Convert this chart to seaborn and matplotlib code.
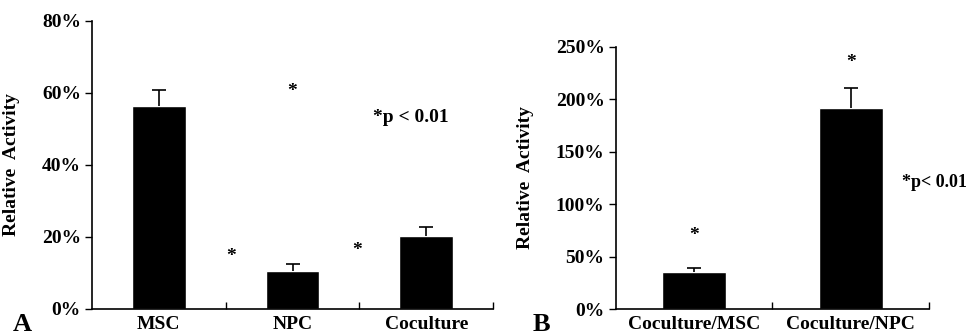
import numpy as np
import pandas as pd
import matplotlib
matplotlib.use("Agg")
import matplotlib.pyplot as plt
import seaborn as sns

# Panel A data
a_groups = ["MSC", "NPC", "Coculture"]
a_values = [56.2, 10.6, 20.3]
a_errors = [4.7, 2.0, 2.5]

# Panel B data
b_groups = ["Coculture/MSC", "Coculture/NPC"]
b_values = [35.8, 191.4]
b_errors = [3.2, 19.0]

sns.set_style("white")
plt.rcParams["font.family"] = ["Liberation Serif", "DejaVu Serif"]
plt.rcParams["font.weight"] = "bold"
for key in ["text.color", "axes.labelcolor", "xtick.color", "ytick.color"]:
    plt.rcParams[key] = "black"

fig = plt.figure(figsize=(9.73, 3.36), dpi=100)
ax_a = fig.add_axes([0.0946, 0.0804, 0.4121, 0.858])
ax_b = fig.add_axes([0.6328, 0.0796, 0.3220, 0.7814])


def draw_panel(ax, groups, values, errors, ymax, ystep, width):
    df = pd.DataFrame({"group": groups, "value": values})
    sns.barplot(data=df, x="group", y="value", color="black", width=width,
                saturation=1, ax=ax, errorbar=None)
    x = np.arange(len(groups))
    eb = ax.errorbar(x, values, yerr=[np.zeros(len(errors)), errors], fmt="none",
                     ecolor="black", elinewidth=1.2, capsize=5, capthick=1.2)
    eb[1][0].set_visible(False)  # only the upper cap
    ax.set_xlim(-0.5, len(groups) - 0.5)
    ax.set_ylim(0, ymax)
    ticks = np.arange(0, ymax + 1, ystep)
    ax.set_yticks(ticks)
    ax.set_yticklabels([f"{int(t)}%" for t in ticks], fontsize=14, fontweight="bold")
    ax.set_xticks(x)
    ax.set_xticklabels(groups, fontsize=14, fontweight="bold")
    ax.tick_params(axis="x", length=0, pad=5)
    ax.tick_params(axis="y", direction="out", length=5, width=1, color="black",
                   left=True, pad=3)
    ax.set_xticks(np.arange(0.5, len(groups), 1.0), minor=True)
    ax.tick_params(axis="x", which="minor", direction="in", length=5, width=1,
                   color="black", bottom=True)
    ax.set_xlabel("")
    ax.set_ylabel("Relative  Activity", fontsize=14, fontweight="bold")
    for side in ["top", "right"]:
        ax.spines[side].set_visible(False)
    for side in ["left", "bottom"]:
        ax.spines[side].set_color("black")
        ax.spines[side].set_linewidth(1.2)


star = dict(ha="center", va="center", fontsize=14, fontweight="bold")

draw_panel(ax_a, a_groups, a_values, a_errors, 80, 20, 0.4)
ax_a.yaxis.set_label_coords(-0.18, 0.5)
ax_a.text(1, 60.4, "*", **star)
ax_a.text(0.54, 14.5, "*", **star)
ax_a.text(1.48, 16.3, "*", **star)
ax_a.text(1.6, 53, "*p < 0.01", ha="left", va="center", fontsize=14, fontweight="bold")
fig.text(0.013, 0.035, "A", fontsize=19, fontweight="bold", va="center")

draw_panel(ax_b, b_groups, b_values, b_errors, 250, 50, 0.41)
ax_b.yaxis.set_label_coords(-0.26, 0.5)
ax_b.text(0, 70.7, "*", **star)
ax_b.text(1, 234.8, "*", **star)
ax_b.text(1.33, 121, "*p< 0.01", ha="left", va="center", fontsize=13,
          fontweight="bold", clip_on=False)
fig.text(0.547, 0.035, "B", fontsize=19, fontweight="bold", va="center")

fig.savefig("out.png", dpi=100)
